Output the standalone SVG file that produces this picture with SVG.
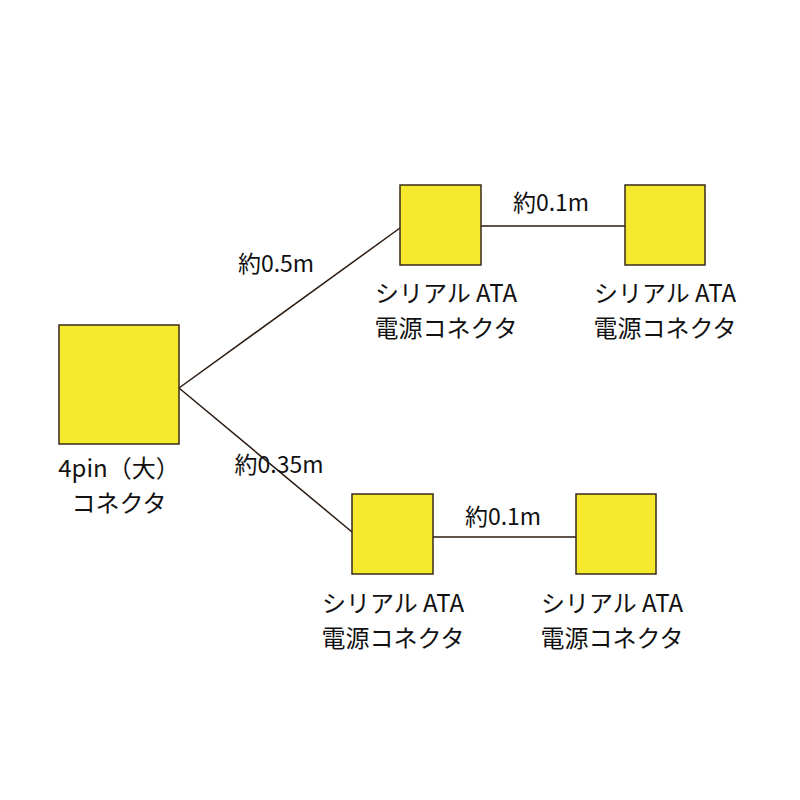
<svg xmlns="http://www.w3.org/2000/svg" width="800" height="800" viewBox="0 0 800 800">
<style>
.box{fill:#f5e92e;stroke:#3a2a1a;stroke-width:1.5}
.ln{stroke:#2a1a10;stroke-width:1.5;fill:none}
text{font-family:"Noto Sans CJK JP","Noto Sans",sans-serif;font-size:24px;fill:#111;text-anchor:middle}
.lab{font-size:23px}
</style>
<rect width="800" height="800" fill="#fff"/>
<g id="connectors">
<line class="ln" x1="179" y1="388" x2="400" y2="228"/>
<line class="ln" x1="179" y1="388" x2="352" y2="532"/>
<line class="ln" x1="481" y1="226" x2="625" y2="226"/>
<line class="ln" x1="433" y1="537" x2="576" y2="537"/>
<text class="lab" x="276" y="272">約0.5m</text>
<text class="lab" x="279" y="473">約0.35m</text>
<text class="lab" x="551" y="211">約0.1m</text>
<text class="lab" x="503" y="525">約0.1m</text>
</g>
<g id="main"><rect class="box" x="59" y="325" width="120" height="119"/><text x="119" y="477">4pin（大）</text><text x="119" y="512">コネクタ</text></g>
<g id="t1"><rect class="box" x="400" y="185" width="81" height="80"/><text x="446" y="302">シリアル ATA</text><text x="446" y="337">電源コネクタ</text></g>
<g id="t2"><rect class="box" x="625" y="185" width="80" height="80"/><text x="665" y="302">シリアル ATA</text><text x="665" y="337">電源コネクタ</text></g>
<g id="b1"><rect class="box" x="352" y="494" width="81" height="80"/><text x="393" y="612">シリアル ATA</text><text x="393" y="647">電源コネクタ</text></g>
<g id="b2"><rect class="box" x="576" y="494" width="80" height="80"/><text x="612" y="612">シリアル ATA</text><text x="612" y="647">電源コネクタ</text></g>
</svg>
